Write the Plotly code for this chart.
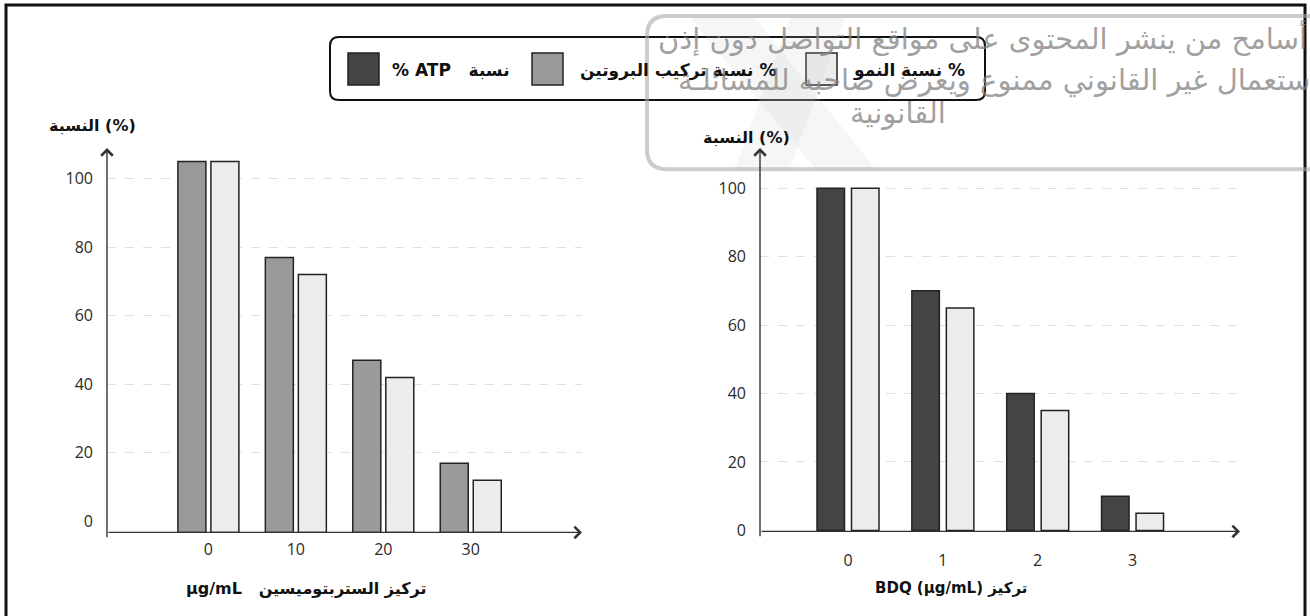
import plotly.graph_objects as go

W, H = 1310, 616
SY = 0.983          # vertical compensation observed in the photographed page

# ---------------- data ----------------
strep_conc = ["0", "10", "20", "30"]
strep_protein = [105, 77, 47, 17]
strep_growth = [105, 72, 42, 12]

bdq_conc = ["0", "1", "2", "3"]
bdq_atp = [100, 70, 40, 10]
bdq_growth = [100, 65, 35, 5]

y_ticks = [0, 20, 40, 60, 80, 100]

name_atp = "% ATP   نسبة"
name_protein = "نسبة تركيب البروتين %"
name_growth = "نسبة النمو %"

y_title = "النسبة (%)"
x_title_left = "µg/mL   تركيز الستربتوميسين"
x_title_right = "BDQ (µg/mL) تركيز"

watermark_lines = [
    "أسامح من ينشر المحتوى على مواقع التواصل دون إذن",
    "ستعمال غير القانوني ممنوع ويعرض صاحبه للمسائلـة",
    "القانونية",
]

# ---------------- styles ----------------
C_ATP = "#444444"
C_PROT = "#9a9a9a"
C_GROW = "#ececec"
C_EDGE = "#222222"
AX = "#333333"
TICK_FONT = dict(family="Open Sans, DejaVu Sans", size=16, color="#2a2a2a")
TITLE_FONT = dict(family="DejaVu Sans", size=16, color="#111111")


def px(x):
    return x / W


def py(y):
    return 1 - (y / SY) / H


# panel geometry (pixels)
L_X0, L_X1, L_Y0, L_Y1 = 107, 582, 532, 148
R_X0, R_X1, R_Y0, R_Y1 = 760, 1240, 531, 148
L_STEP, L_C0 = 87.45, 208.4
R_STEP, R_C0 = 94.85, 848.0
L_BASE = -3.2
L_YR = [L_BASE, 108.9]
R_YR = [-0.3, 111.7]

lw, lg = 28 / L_STEP, 2.5 / L_STEP
rw, rg = 27.5 / R_STEP, 3.5 / R_STEP

fig = go.Figure()
edge = dict(color=C_EDGE, width=1.5)

fig.add_trace(go.Bar(x=strep_conc, y=[v - L_BASE for v in strep_protein], base=L_BASE,
                     width=lw, offset=-(lw + lg), marker=dict(color=C_PROT, line=edge),
                     name=name_protein, xaxis="x", yaxis="y", showlegend=False))
fig.add_trace(go.Bar(x=strep_conc, y=[v - L_BASE for v in strep_growth], base=L_BASE,
                     width=lw, offset=lg, marker=dict(color=C_GROW, line=edge),
                     name=name_growth, xaxis="x", yaxis="y", showlegend=False))
fig.add_trace(go.Bar(x=bdq_conc, y=bdq_atp,
                     width=rw, offset=-(rw + rg), marker=dict(color=C_ATP, line=edge),
                     name=name_atp, xaxis="x2", yaxis="y2", showlegend=False))
fig.add_trace(go.Bar(x=bdq_conc, y=bdq_growth,
                     width=rw, offset=rg, marker=dict(color=C_GROW, line=edge),
                     name=name_growth, xaxis="x2", yaxis="y2", showlegend=False))

common_y = dict(tickvals=y_ticks, showgrid=True, gridcolor="#e0e0e0", griddash="dash",
                gridwidth=1, zeroline=True, zerolinecolor="rgba(0,0,0,0)",
                showline=False, ticks="", tickfont=TICK_FONT, ticklabelstandoff=13)
common_x = dict(type="category", showgrid=False, zeroline=False, showline=False,
                ticks="", tickfont=TICK_FONT)

fig.update_layout(
    width=W, height=H, autosize=False,
    margin=dict(l=0, r=0, t=0, b=0),
    paper_bgcolor="white", plot_bgcolor="rgba(0,0,0,0)",
    barmode="overlay",
    xaxis=dict(domain=[px(L_X0), px(L_X1)], range=[(L_X0 - L_C0) / L_STEP, (L_X1 - L_C0) / L_STEP],
               anchor="y", ticklabelstandoff=6, **common_x),
    yaxis=dict(domain=[py(L_Y0), py(L_Y1)], range=L_YR, anchor="x", **common_y),
    xaxis2=dict(domain=[px(R_X0), px(R_X1)], range=[(R_X0 - R_C0) / R_STEP, (R_X1 - R_C0) / R_STEP],
                anchor="y2", ticklabelstandoff=18, **common_x),
    yaxis2=dict(domain=[py(R_Y0), py(R_Y1)], range=R_YR, anchor="x2", **common_y),
)

ann = []
shapes = []


def arrow(x_head, y_head, x_tail, y_tail):
    ann.append(dict(xref="paper", yref="paper", x=px(x_head), y=py(y_head),
                    axref="pixel", ayref="pixel", ax=x_tail - x_head, ay=(y_tail - y_head) / SY,
                    text="", showarrow=True, arrowhead=4, arrowsize=1.6, arrowwidth=1.4,
                    arrowcolor=AX, standoff=0, startstandoff=0))


arrow(L_X1, L_Y0, L_X0, L_Y0)
arrow(L_X0, L_Y1, L_X0, L_Y0)
arrow(R_X1, R_Y0, R_X0, R_Y0)
arrow(R_X0, R_Y1, R_X0, R_Y0)


def label(x, y, text, font, xanchor="center"):
    ann.append(dict(xref="paper", yref="paper", x=px(x), y=py(y), text=text,
                    showarrow=False, font=font, xanchor=xanchor, yanchor="middle"))


label(92, 125, "<b>%s</b>" % y_title, TITLE_FONT)
label(746, 137, "<b>%s</b>" % y_title, TITLE_FONT)
label(306, 588, "<b>%s</b>" % x_title_left, TITLE_FONT)
label(951, 588, "<b>%s</b>" % x_title_right, dict(TITLE_FONT, size=15))


def rrect(x0, y0, x1, y1, r):
    X0, X1 = px(x0), px(x1)
    Y0, Y1 = py(y0), py(y1)
    rx, ry = r / W, r / H
    return (f"M{X0+rx},{Y0} L{X1-rx},{Y0} Q{X1},{Y0} {X1},{Y0-ry} L{X1},{Y1+ry} "
            f"Q{X1},{Y1} {X1-rx},{Y1} L{X0+rx},{Y1} Q{X0},{Y1} {X0},{Y1+ry} "
            f"L{X0},{Y0-ry} Q{X0},{Y0} {X0+rx},{Y0} Z")


def poly(points):
    return "M" + " L".join(f"{px(x)},{py(y)}" for x, y in points) + " Z"


# outer frame
shapes.append(dict(type="rect", xref="paper", yref="paper", x0=px(6), x1=px(1305), y0=py(640), y1=py(5),
                   line=dict(color="#111111", width=3), fillcolor="rgba(0,0,0,0)", layer="above"))

# legend box
shapes.append(dict(type="path", xref="paper", yref="paper", path=rrect(330, 37, 985, 100, 9),
                   line=dict(color="#111111", width=2), fillcolor="white", layer="above"))
legend_items = [(348, C_ATP, name_atp, 390), (532, C_PROT, name_protein, 578), (806, C_GROW, name_growth, 851)]
for bx, col, nm, tx in legend_items:
    shapes.append(dict(type="rect", xref="paper", yref="paper", x0=px(bx), x1=px(bx + 31),
                       y0=py(85), y1=py(53), fillcolor=col, line=dict(color=C_EDGE, width=1.5),
                       layer="above"))
    label(tx, 70, "<b>%s</b>" % nm, dict(family="DejaVu Sans", size=17, color="#111111"), xanchor="left")

# watermark (faint logo + frame + text)
shapes.append(dict(type="path", xref="paper", yref="paper",
                   path=poly([(690, 18), (755, 18), (875, 168), (815, 168)]),
                   line=dict(width=0), fillcolor="rgba(200,200,200,0.16)", layer="above"))
shapes.append(dict(type="path", xref="paper", yref="paper",
                   path=poly([(790, 18), (845, 18), (790, 168), (735, 168)]),
                   line=dict(width=0), fillcolor="rgba(200,200,200,0.16)", layer="above"))
shapes.append(dict(type="path", xref="paper", yref="paper", path=rrect(647, 16, 1340, 169, 20),
                   line=dict(color="rgba(170,170,170,0.6)", width=4), fillcolor="rgba(0,0,0,0)",
                   layer="above"))
wm_font = dict(family="DejaVu Sans", size=29, color="rgba(130,130,130,0.75)")
label(1309, 38, watermark_lines[0], wm_font, xanchor="right")
label(1312, 80, watermark_lines[1], wm_font, xanchor="right")
label(898, 113, watermark_lines[2], wm_font)

fig.update_layout(annotations=ann, shapes=shapes)
fig.write_html("out.html", config={"displayModeBar": False},
               post_script="document.body.style.margin='0px';")
